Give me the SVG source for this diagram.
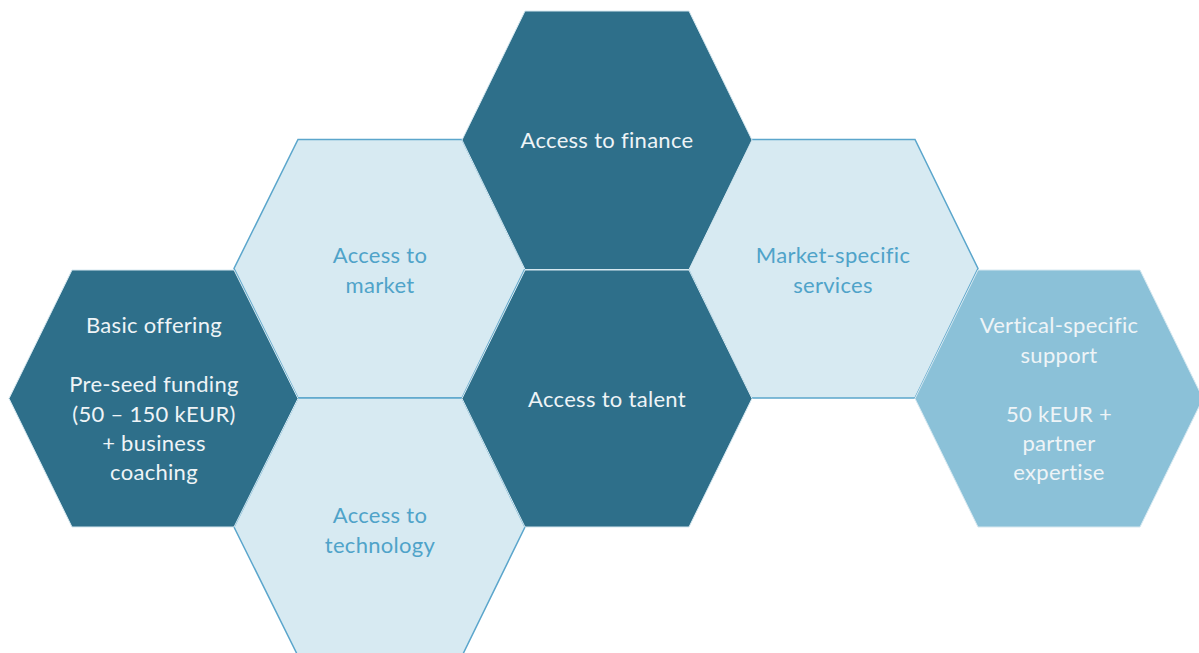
<svg xmlns="http://www.w3.org/2000/svg" width="1199" height="653" viewBox="0 0 1199 653">
<style>
.dark{fill:#2e6f8a;stroke:#d6e8f0;stroke-width:1}
.light{fill:#d7eaf2;stroke:#5ba6cc;stroke-width:1.5}
.mid{fill:#8bc1d8;stroke:#d6e8f0;stroke-width:1}
text{font-family:Lato,"Open Sans",sans-serif;font-size:22px;letter-spacing:0.3px;text-anchor:middle}
.tw{fill:#eef4f7}
.tl{fill:#4fa3c9}
</style>
<rect width="1199" height="653" fill="#ffffff"/>
<g id="connectors"></g>
<g id="access-to-market">
<polygon class="light" points="298,139.5 462,139.5 525,268.5 462,398 298,398 234,268.5"/>
<text class="tl" x="380" y="263">Access to</text>
<text class="tl" x="380" y="293">market</text>
</g>
<g id="access-to-technology">
<polygon class="light" points="298,398 462,398 525,527 462,656 298,656 234,527"/>
<text class="tl" x="380" y="523">Access to</text>
<text class="tl" x="380" y="553">technology</text>
</g>
<g id="market-specific-services">
<polygon class="light" points="751,139.5 915,139.5 978,268.5 915,398 751,398 688,268.5"/>
<text class="tl" x="833" y="263">Market-specific</text>
<text class="tl" x="833" y="293">services</text>
</g>
<g id="basic-offering">
<polygon class="dark" points="72,270 234,270 298,398.5 234,527 72,527 9,398.5"/>
<text class="tw" x="154" y="333">Basic offering</text>
<text class="tw" x="154" y="392">Pre-seed funding</text>
<text class="tw" x="154" y="421.5">(50 – 150 kEUR)</text>
<text class="tw" x="154" y="451">+ business</text>
<text class="tw" x="154" y="480">coaching</text>
</g>
<g id="access-to-finance">
<polygon class="dark" points="525,11 689,11 752,140 689,269.5 525,269.5 462,140"/>
<text class="tw" x="607" y="148">Access to finance</text>
</g>
<g id="access-to-talent">
<polygon class="dark" points="525,270 689,270 752,398.5 689,527 525,527 462,398.5"/>
<text class="tw" x="607" y="407">Access to talent</text>
</g>
<g id="vertical-specific-support">
<polygon class="mid" points="978,270 1140,270 1203,398.5 1140,527 978,527 915,398.5"/>
<text class="tw" x="1059" y="333">Vertical-specific</text>
<text class="tw" x="1059" y="362.5">support</text>
<text class="tw" x="1059" y="421.5">50 kEUR +</text>
<text class="tw" x="1059" y="451">partner</text>
<text class="tw" x="1059" y="480">expertise</text>
</g>
</svg>
